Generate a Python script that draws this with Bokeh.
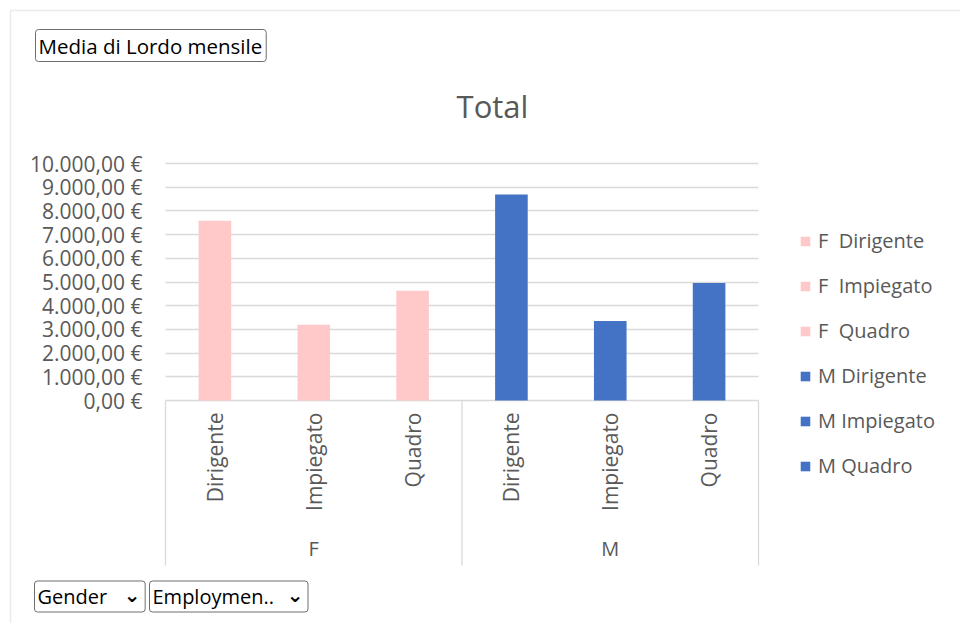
import math
from bokeh.plotting import figure
from bokeh.models import (ColumnDataSource, Range1d, FixedTicker, Grid,
                          CustomJSTickFormatter, Label, Legend, LegendItem, BoxAnnotation)
from bokeh.core.properties import value
from bokeh.embed import file_html
from bokeh.resources import INLINE

# ---- data ----
genders = ["F", "M"]
roles = ["Dirigente", "Impiegato", "Quadro"]
f_values = [7580, 3200, 4630]
m_values = [8690, 3350, 4960]
colors_by_gender = {"F": "#FFC9C9", "M": "#4472C4"}
y_ticks = [0, 1000, 2000, 3000, 4000, 5000, 6000, 7000, 8000, 9000, 10000]
title_text = "Total"
field_button = "Media di Lordo mensile"
row_buttons = ["Gender", "Employmen.."]

FONT = "Open Sans"
GREY = "#595959"
GRID = "#D9D9D9"

# ---- derived table ----
factors = [(g, r) for g in genders for r in roles]
values = f_values + m_values
colors = [colors_by_gender[g] for g, _ in factors]
xpos = [i + 0.5 for i in range(len(factors))]          # category slot centres
n = len(factors)
legend_labels = [("F  " if g == "F" else "M ") + r for g, r in factors]
group_centres = [genders.index(g) * len(roles) + len(roles) / 2 for g in genders]
group_edges = [0] + [(k + 1) * len(roles) for k in range(len(genders))]

# ---- page layout (pixels) ----
W, H = 960, 623
PLOT_L, PLOT_R = 165, 758       # left / right of category area
Y0_PX, Y10K_PX = 400, 163        # pixel rows of 0 and 10000
BOX_BOTTOM_PX = 565
ux = (PLOT_R - PLOT_L) / n                     # px per category
uy = (Y0_PX - Y10K_PX) / y_ticks[-1]           # px per unit
x_start = -PLOT_L / ux
x_end = n + (W - PLOT_R) / ux
y_start = -(H - Y0_PX) / uy
y_end = y_ticks[-1] + Y10K_PX / uy

def sy(page_y):  # screen units measured from the bottom of the frame
    return H - page_y

p = figure(x_range=Range1d(x_start, x_end), y_range=Range1d(y_start, y_end),
           width=W, height=H, min_border=0,
           output_backend="svg", toolbar_location=None)
p.outline_line_color = None
p.background_fill_color = "white"
p.border_fill_color = "white"

src = ColumnDataSource(dict(x=xpos, top=values, color=colors))
bars = p.vbar(x="x", top="top", bottom=0, width=0.33, source=src,
              fill_color="color", line_color=None)

# ---- axes & grid ----
p.xaxis.visible = False
p.xgrid.visible = False
yax = p.yaxis[0]
yax.fixed_location = 0
yax.ticker = FixedTicker(ticks=y_ticks)
yax.formatter = CustomJSTickFormatter(code="""
    const s = Math.round(tick).toString().replace(/\\B(?=(\\d{3})+(?!\\d))/g, '.');
    return s + ',00 €';
""")
yax.axis_line_color = None
yax.major_tick_line_color = None
yax.minor_tick_line_color = None
yax.major_tick_out = 0
yax.major_tick_in = 0
yax.major_label_standoff = 23
yax.major_label_text_font = FONT
yax.major_label_text_font_size = "21px"
yax.major_label_text_color = GREY

if "cross_bounds" in Grid.properties():
    p.ygrid.ticker = FixedTicker(ticks=y_ticks)
    p.ygrid.grid_line_color = GRID
    p.ygrid.grid_line_width = 1.3
    p.ygrid.cross_bounds = (0, n)
else:
    p.ygrid.visible = False
    p.segment(x0=[0] * len(y_ticks), x1=[n] * len(y_ticks), y0=y_ticks, y1=y_ticks,
              line_color=GRID, line_width=1.3, level="underlay")

# category axis box (separators)
box_bottom = -(BOX_BOTTOM_PX - Y0_PX) / uy
p.segment(x0=group_edges, x1=group_edges, y0=[0] * len(group_edges),
          y1=[box_bottom] * len(group_edges), line_color=GRID, line_width=1.3)

# category labels
p.text(x=xpos, y=[-12 / uy] * n, text=[r for _, r in factors],
       angle=math.pi / 2, text_align="right", text_baseline="middle",
       text_font=value(FONT), text_font_size="21px", text_color=GREY)
p.text(x=group_centres, y=[-148 / uy] * len(genders), text=genders,
       text_align="center", text_baseline="middle",
       text_font=value(FONT), text_font_size="20px", text_color=GREY)

# ---- legend ----
items = [LegendItem(label=lab, renderers=[bars], index=i)
         for i, lab in enumerate(legend_labels)]
legend = Legend(items=items, location=(799, sy(479)),
                label_text_font=FONT, label_text_font_size="20px",
                label_text_color=GREY, glyph_width=12, glyph_height=12,
                label_standoff=7, spacing=18, label_height=27,
                padding=0, margin=0, border_line_color=None,
                background_fill_alpha=0)
p.add_layout(legend)

# ---- title ----
p.add_layout(Label(x=492, y=sy(105), x_units="screen", y_units="screen",
                   text=title_text, text_align="center", text_baseline="middle",
                   text_font=FONT, text_font_size="31px", text_color=GREY))

# ---- pivot field buttons ----
def pad(l, r, t, b):
    return dict(left=l, right=r, top=t, bottom=b)

p.add_layout(Label(x=35, y=sy(45), x_units="screen", y_units="screen",
                   text=field_button, text_align="left", text_baseline="middle",
                   text_font=FONT, text_font_size="20.5px", text_color="#000000",
                   border_line_color="#6E6E6E", border_radius=3,
                   background_fill_color="white", padding=pad(3, 4, 2, 2)))
box_specs = [(34, 145, 73), (149, 308, 125)]
for (x0, x1, tw), t in zip(box_specs, row_buttons):
    p.add_layout(Label(x=x0, y=sy(596), x_units="screen", y_units="screen",
                       text=t, text_align="left", text_baseline="middle",
                       text_font=FONT, text_font_size="20px", text_color="#000000",
                       border_line_color="#6E6E6E", border_radius=3,
                       background_fill_color="white",
                       padding=pad(3, max(0, x1 - x0 - tw), 2, 2)))
    p.add_layout(Label(x=x1 - 5, y=sy(594), x_units="screen", y_units="screen",
                       text="⌄", text_align="right", text_baseline="middle",
                       text_font="DejaVu Sans", text_font_size="20px",
                       text_font_style="bold", text_color="#000000"))

# ---- pivot area border ----
p.add_layout(BoxAnnotation(left=10, right=W + 20, top=sy(10), bottom=-20,
                           left_units="screen", right_units="screen",
                           top_units="screen", bottom_units="screen",
                           fill_alpha=0, line_color="#BDBDBD", line_width=1.5))

open("out.html", "w").write(file_html(p, INLINE))
